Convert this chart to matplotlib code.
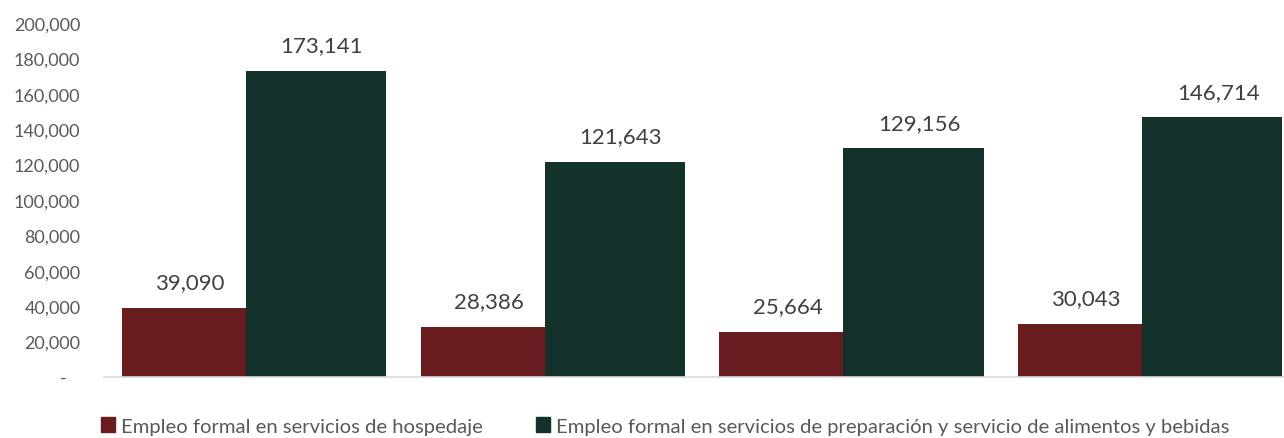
import matplotlib.pyplot as plt
from matplotlib.ticker import FuncFormatter, MultipleLocator
from matplotlib.patches import Patch

plt.rcParams['font.family'] = ['Lato', 'DejaVu Sans']

groups = ["G1", "G2", "G3", "G4"]
hospedaje = [39090, 28386, 25664, 30043]
alimentos = [173141, 121643, 129156, 146714]
series_names = ["Empleo formal en servicios de hospedaje",
                "Empleo formal en servicios de preparación y servicio de alimentos y bebidas"]

c_red = "#691C20"
c_green = "#13322B"

fig = plt.figure(figsize=(12.84, 4.39), dpi=100)
W, H = 1284, 439
left, right, bottom, top = 104, 1299, 378, 24
ax = fig.add_axes([left / W, 1 - bottom / H, (right - left) / W, (bottom - top) / H])

x = range(len(groups))
w_red, w_green = 0.415, 0.469
xr = [i - 0.025 - w_red / 2 for i in x]
xg = [i - 0.025 + w_green / 2 for i in x]
b1 = ax.bar(xr, hospedaje, width=w_red, color=c_red)
b2 = ax.bar(xg, alimentos, width=w_green, color=c_green)

for bars, vals in ((b1, hospedaje), (b2, alimentos)):
    for b, v in zip(bars, vals):
        ax.annotate(f"{v:,}", (b.get_x() + b.get_width() / 2 + 0.02, v),
                    xytext=(0, 11), textcoords="offset points",
                    ha="center", va="bottom", fontsize=16, color="#404040")

ax.set_xlim(-0.5, 3.5)
ax.set_ylim(0, 200000)
ax.yaxis.set_major_locator(MultipleLocator(20000))
ax.yaxis.set_major_formatter(FuncFormatter(lambda v, p: "-   " if v == 0 else f"{int(v):,}"))
ax.tick_params(axis="y", length=0, pad=17, labelsize=13, labelcolor="#595959")
ax.set_xticks([])
for s in ("top", "right", "left"):
    ax.spines[s].set_visible(False)
ax.spines["bottom"].set_color("#D9D9D9")
ax.spines["bottom"].set_linewidth(1.2)

handles = [Patch(color=c_red), Patch(color=c_green)]
fig.legend(handles, series_names, loc="center", bbox_to_anchor=(665 / W, 1 - 427 / H),
           ncol=2, frameon=False, fontsize=14.6, handlelength=0.7, handleheight=0.7,
           handletextpad=0.3, columnspacing=2.6, labelcolor="#595959")

fig.savefig("out.png", dpi=100)
